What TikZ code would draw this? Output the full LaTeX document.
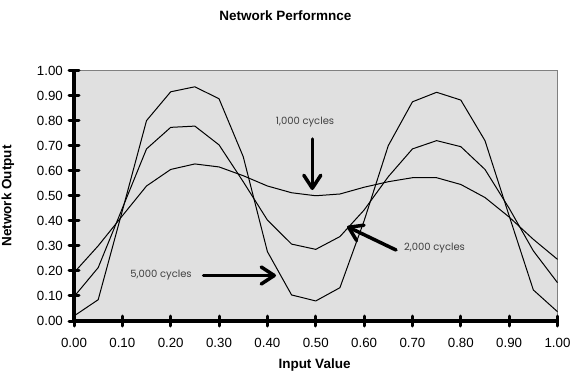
\documentclass[tikz,border=0pt]{standalone}
\usepackage{fontspec}
\setmainfont{Liberation Sans}
\newfontfamily\annfont{Poppins}
\usetikzlibrary{arrows.meta}
\definecolor{plotbg}{RGB}{224,224,224}
\definecolor{frame}{RGB}{128,128,128}
\definecolor{anntext}{RGB}{64,64,64}
\tikzset{
  ticklab/.style={font=\fontsize{13.3}{13.3}\selectfont, inner sep=0pt},
  axlab/.style={font=\bfseries\fontsize{13.5}{13.5}\selectfont, inner sep=0pt},
  annlab/.style={font=\annfont\fontsize{10}{10}\selectfont, text=anntext, inner sep=0pt},
  curve/.style={line width=1pt, black, line join=round},
  axisline/.style={line width=3.5pt, black},
  tickmark/.style={line width=3pt, black, line cap=round},
  callout/.style={line width=3.5pt, black, line cap=round, -{Straight Barb[length=13pt,width=17pt,round]}}
}
\begin{document}
\begin{tikzpicture}[x=1pt,y=-1pt]
\useasboundingbox (0,0) rectangle (572,382);
% plot area
\fill[plotbg] (74,70) rectangle (557.5,321);
\draw[frame, line width=0.8pt] (74,70) -- (557.5,70) -- (557.5,321);
\begin{scope}[shift={(74,321)}, x=483.5pt, y=250.5pt]
  % curves
  \draw[curve] plot coordinates {(0,0.02) (0.05,0.085) (0.10,0.44) (0.15,0.80) (0.20,0.915) (0.25,0.935) (0.30,0.887) (0.35,0.656) (0.40,0.277) (0.45,0.104) (0.50,0.08) (0.55,0.133) (0.60,0.40) (0.65,0.70) (0.70,0.875) (0.75,0.913) (0.80,0.882) (0.85,0.72) (0.90,0.42) (0.95,0.124) (1.00,0.037)};
  \draw[curve] plot coordinates {(0,0.097) (0.05,0.213) (0.10,0.45) (0.15,0.687) (0.20,0.773) (0.25,0.778) (0.30,0.703) (0.35,0.556) (0.40,0.403) (0.45,0.307) (0.50,0.286) (0.55,0.337) (0.60,0.443) (0.65,0.576) (0.70,0.687) (0.75,0.72) (0.80,0.696) (0.85,0.605) (0.90,0.45) (0.95,0.28) (1.00,0.153)};
  \draw[curve] plot coordinates {(0,0.193) (0.05,0.30) (0.10,0.42) (0.15,0.539) (0.20,0.605) (0.25,0.627) (0.30,0.615) (0.35,0.58) (0.40,0.539) (0.45,0.512) (0.50,0.50) (0.55,0.507) (0.60,0.534) (0.65,0.556) (0.70,0.572) (0.75,0.572) (0.80,0.545) (0.85,0.493) (0.90,0.415) (0.95,0.326) (1.00,0.246)};
  % axes
  \draw[axisline] (0,1) -- (0,0) -- (1,0);
  \foreach \i in {0,1,...,10} {
    \pgfmathsetmacro{\v}{\i/10}
    \draw[tickmark] (\v,0) ++(0,-5pt) -- ++(0,10pt);
    \draw[tickmark] (0,\v) ++(-5pt,0) -- ++(10pt,0);
  }
  \foreach \i/\t in {0/0.00,1/0.10,2/0.20,3/0.30,4/0.40,5/0.50,6/0.60,7/0.70,8/0.80,9/0.90,10/1.00} {
    \pgfmathsetmacro{\v}{\i/10}
    \node[ticklab, anchor=center] (xl\i) at ([yshift=-22pt]\v,0) {\t};
    \node[ticklab, anchor=east] (yl\i) at ([xshift=-11pt]0,\v) {\t};
  }
\end{scope}
% titles
\node[axlab] (title) at (285.5,15.5) {Network Performnce};
\node[axlab] (xtitle) at (314.5,365.5) {Input Value};
\node[axlab, rotate=90] (ytitle) at (8,196) {Network Output};
% annotations
\node[annlab] (l1) at (305,122) {1,000 cycles};
\node[annlab] (l2) at (434.5,248.3) {2,000 cycles};
\node[annlab] (l5) at (161,275) {5,000 cycles};
\coordinate (a1s) at (312.3,139);
\coordinate (a1e) at (312.3,190);
\coordinate (a2s) at (396,250);
\coordinate (a2e) at (347,226.5);
\coordinate (a5s) at (203.5,275.5);
\coordinate (a5e) at (276,275.5);
\draw[callout] (a1s) -- (a1e);
\draw[callout] (a2s) -- (a2e);
\draw[callout] (a5s) -- (a5e);
\end{tikzpicture}
\end{document}
